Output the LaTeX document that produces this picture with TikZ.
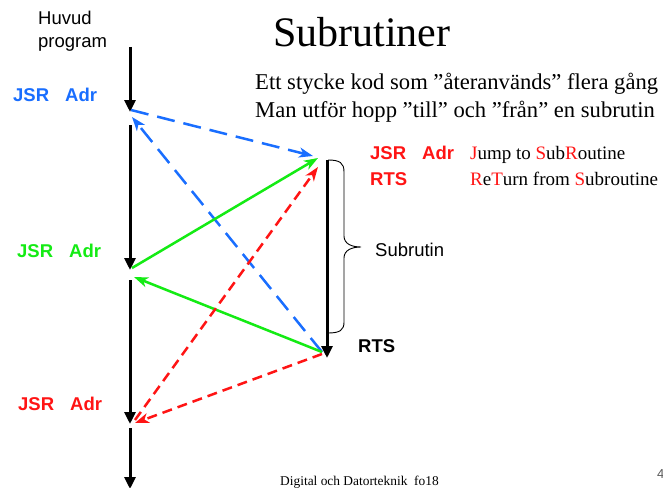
\documentclass[tikz,border=0pt]{standalone}
\usepackage{fontspec}
\setmainfont{Liberation Serif}
\newfontfamily\arialf{Liberation Sans}
\usetikzlibrary{arrows.meta}
\definecolor{cblue}{RGB}{25,110,255}
\definecolor{cgreen}{RGB}{20,235,20}
\definecolor{cred}{RGB}{255,20,20}
\definecolor{cgray}{RGB}{90,90,90}
\tikzset{
  mainarrow/.style={line width=3pt,-{Triangle[length=12pt,width=11pt]}},
  colarrow/.style={line width=2.5pt,-{Stealth[length=14pt,width=10pt,inset=4pt]}},
  bluedash/.style={colarrow,cblue,dash pattern=on 18pt off 9pt},
  reddash/.style={colarrow,cred,dash pattern=on 10pt off 6pt},
  greenline/.style={colarrow,cgreen},
  txt/.style={inner sep=0pt,anchor=base west},
  sans/.style={txt,font=\arialf\fontsize{18.5}{22}\selectfont},
  sansb/.style={txt,font=\arialf\bfseries\fontsize{18.5}{22}\selectfont},
}
\begin{document}
\begin{tikzpicture}[x=1pt,y=-1pt]
\useasboundingbox (0,0) rectangle (663,487);
\clip (0,0) rectangle (663,487);
\fill[white] (0,0) rectangle (663,487);
% coordinates of main program
\coordinate (m0) at (130,47);
\coordinate (m1) at (130,112);
\coordinate (m2) at (130,125);
\coordinate (m3) at (130,270);
\coordinate (m4) at (130,280);
\coordinate (m5) at (130,424);
\coordinate (m6) at (130,428);
\coordinate (m7) at (130,489);
% subroutine
\coordinate (s0) at (327,160);
\coordinate (s1) at (327,358);
% jump points
\coordinate (bA) at (131,110);
\coordinate (bB) at (313,156);
\coordinate (bC) at (322,352);
\coordinate (bD) at (132,117);
\coordinate (gA) at (132,268);
\coordinate (gB) at (318,158);
\coordinate (gC) at (322,352);
\coordinate (gD) at (134,277);
\coordinate (rA) at (322,354);
\coordinate (rB) at (135,423);
\coordinate (rC) at (135,420);
\coordinate (rD) at (318,167);
% texts
\node[txt,font=\fontsize{42}{46}\selectfont] (title) at (273,47) {Subrutiner};
\node[txt,font=\fontsize{22.6}{28}\selectfont] (l1) at (255,89) {Ett stycke kod som ”återanvänds” flera gång};
\node[txt,font=\fontsize{22.6}{28}\selectfont] (l2) at (255,117) {Man utför hopp ”till” och ”från” en subrutin};
\node[sans] (hv1) at (38,25) {Huvud};
\node[sans] (hv2) at (38,48) {program};
\node[sansb,cblue] (jb) at (13,101) {JSR\hspace{16pt}Adr};
\node[sansb,cgreen] (jg) at (17,257) {JSR\hspace{16pt}Adr};
\node[sansb,cred] (jr) at (18,410) {JSR\hspace{16pt}Adr};
\node[sansb,cred] (lj) at (370,159) {JSR\hspace{16pt}Adr};
\node[sansb,cred] (lr) at (370,185) {RTS};
\node[txt,font=\fontsize{19}{22}\selectfont] (dj) at (470,159) {\textcolor{cred}{J}ump to \textcolor{cred}{S}ub\textcolor{cred}{R}outine};
\node[txt,font=\fontsize{19}{22}\selectfont] (dr) at (470,185) {\textcolor{cred}{R}e\textcolor{cred}{T}urn from \textcolor{cred}{S}ubroutine};
\node[sans] (sub) at (375,256) {Subrutin};
\node[sansb] (rts) at (358,352) {RTS};
\node[txt,font=\fontsize{13.4}{15}\selectfont] (foot) at (280,485) {Digital och Datorteknik\ \ fo18};
\node[txt,font=\arialf\fontsize{13}{15}\selectfont,cgray] (pg) at (657,478) {4};
% main program arrows
\draw[mainarrow] (m0) -- (m1);
\draw[mainarrow] (m2) -- (m3);
\draw[mainarrow] (m4) -- (m5);
\draw[mainarrow] (m6) -- (m7);
\draw[mainarrow] (s0) -- (s1);
% brace
\draw[line width=0.9pt] (328,160) .. controls (340,160) and (344,163) .. (344,172) -- (344,236) .. controls (344,244) and (352,247) .. (361,247) .. controls (352,247) and (344,250) .. (344,258) -- (344,322) .. controls (344,330) and (340,333) .. (328,333);
% jumps
\draw[bluedash] (bA) -- (bB);
\draw[bluedash] (bC) -- (bD);
\draw[greenline] (gA) -- (gB);
\draw[greenline] (gC) -- (gD);
\draw[reddash] (rA) -- (rB);
\draw[reddash] (rC) -- (rD);
\end{tikzpicture}
\end{document}
